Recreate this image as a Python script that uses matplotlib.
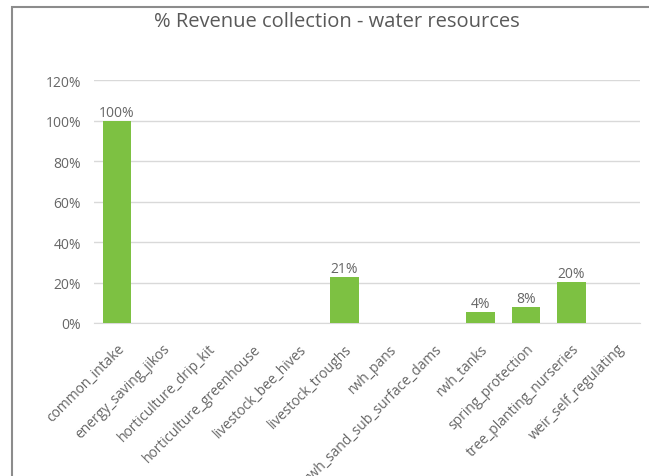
import matplotlib
matplotlib.use('Agg')
from matplotlib import pyplot as plt
from matplotlib.patches import Rectangle
from matplotlib.ticker import PercentFormatter
import numpy as np

categories = ['common_intake', 'energy_saving_jikos', 'horticulture_drip_kit',
              'horticulture_greenhouse', 'livestock_bee_hives', 'livestock_troughs',
              'rwh_pans', 'rwh_sand_sub_surface_dams', 'rwh_tanks',
              'spring_protection', 'tree_planting_nurseries', 'weir_self_regulating']
# bar heights (fraction)
revenue = [1.00, 0, 0, 0, 0, 0.225, 0, 0, 0.055, 0.08, 0.203, 0]
# data labels as printed on the chart
bar_labels = ['100%', '', '', '', '', '21%', '', '', '4%', '8%', '20%', '']
yticks = [0, 0.2, 0.4, 0.6, 0.8, 1.0, 1.2]

plt.rcParams['font.family'] = ['Open Sans', 'DejaVu Sans']
grey = '#666666'

fig = plt.figure(figsize=(6.49, 4.77), dpi=100)
ax = fig.add_axes([0.1453, 0.3208, 0.8401, 0.509])

x = np.arange(len(categories))
bars = ax.bar(x, revenue, width=0.63, color='#7DC142', zorder=3)

for rect, lab in zip(bars, bar_labels):
    if lab:
        ax.text(rect.get_x() + rect.get_width() / 2, rect.get_height() + 0.005,
                lab, ha='center', va='bottom', fontsize=10, color=grey)

ax.set_xlim(-0.5, len(categories) - 0.5)
ax.set_ylim(0, 1.2)
ax.set_yticks(yticks)
ax.yaxis.set_major_formatter(PercentFormatter(1.0, decimals=0))
ax.grid(axis='y', color='#d9d9d9', linewidth=1, zorder=0)
for s in ['top', 'right', 'left']:
    ax.spines[s].set_visible(False)
ax.spines['bottom'].set_color('#d9d9d9')
ax.tick_params(axis='both', length=0, colors=grey, labelsize=10)
ax.tick_params(axis='y', pad=9.5)
ax.set_xticks(x)
ax.set_xticklabels(categories, rotation=45, ha='right', rotation_mode='anchor',
                   color=grey, fontsize=10)
ax.tick_params(axis='x', pad=13)

fig.text(0.519, 0.954, '% Revenue collection - water resources',
         ha='center', va='center', fontsize=14.5, color='#595959')

# chart frame (clipped by the image edge on the right and bottom)
fig.patches.append(Rectangle((12 / 649, -0.1), 1.2, 1 - 8 / 477 + 0.1,
                             transform=fig.transFigure, fill=False,
                             edgecolor='#8c8c8c', linewidth=1.5))

fig.savefig('out.png', dpi=100)
